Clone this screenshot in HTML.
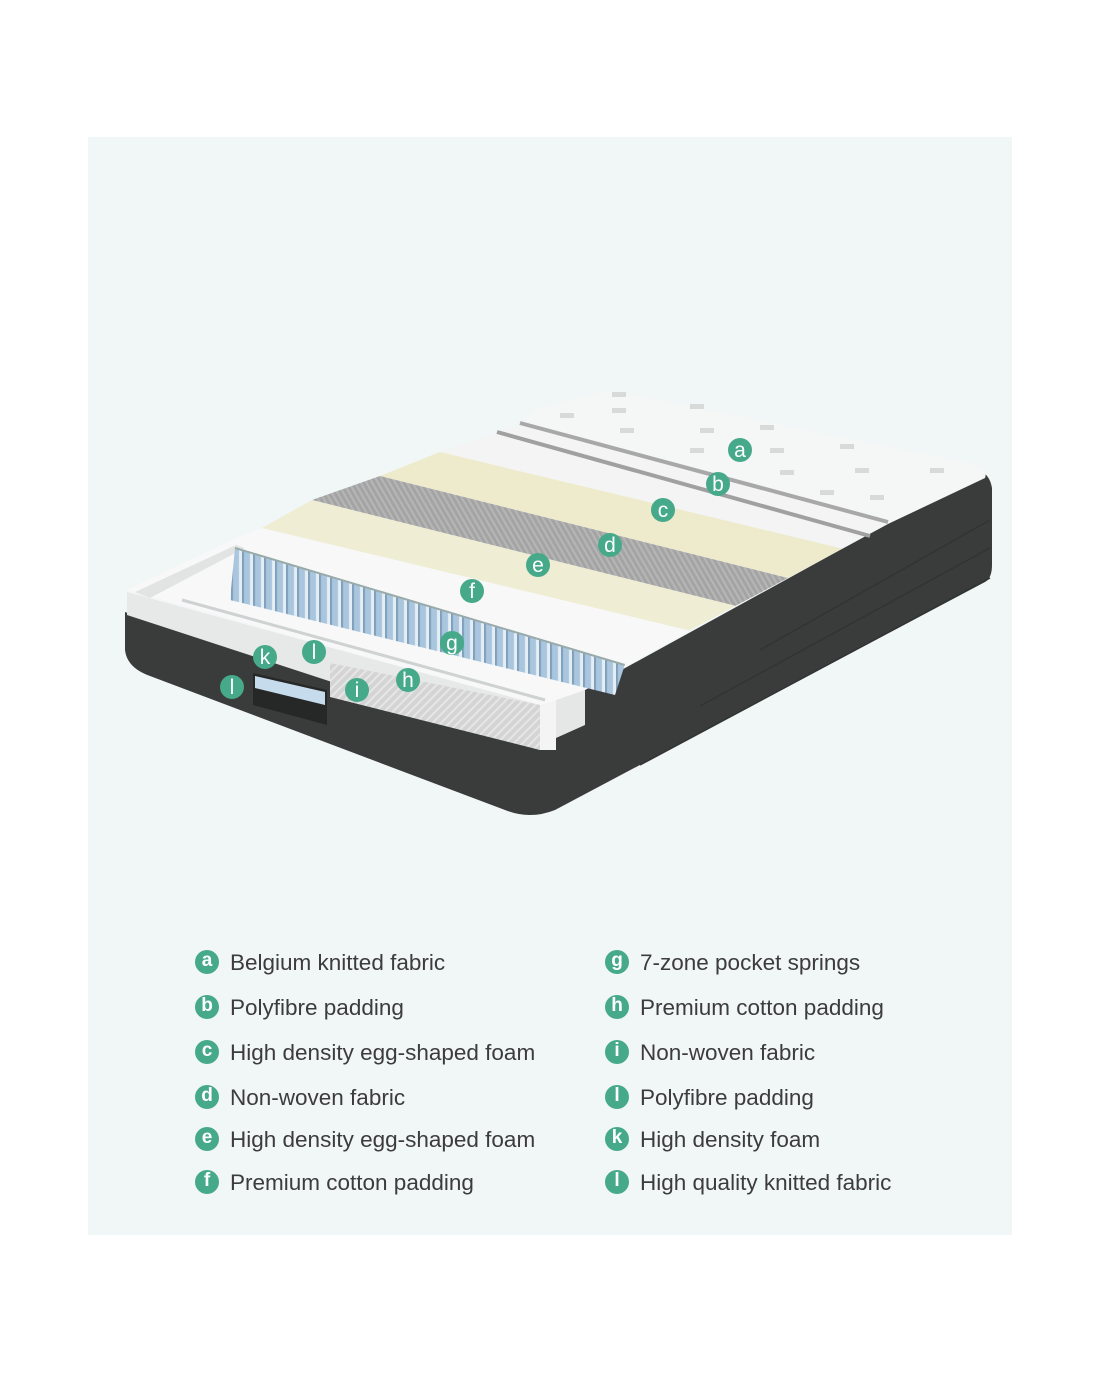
<!DOCTYPE html>
<html><head><meta charset="utf-8"><style>
html,body{margin:0;padding:0;background:#fff;}
body{width:1100px;height:1375px;position:relative;overflow:hidden;font-family:"Liberation Sans",sans-serif;}
.panel{position:absolute;left:88px;top:137px;width:924px;height:1098px;background:#f1f6f6;}
.row{position:absolute;font-size:22.5px;color:#3c3c3c;line-height:26px;white-space:nowrap;}
.ic{display:inline-block;width:24px;height:24px;border-radius:50%;background:#46a98a;color:#fff;font-size:19px;line-height:22px;text-align:center;font-weight:bold;vertical-align:middle;margin-right:11px;position:relative;top:-2px;}
</style></head><body>
<div class="panel"></div>
<svg width="1100" height="1375" style="position:absolute;left:0;top:0">
<defs>
<pattern id="sp" width="11" height="10" patternUnits="userSpaceOnUse" patternTransform="skewY(17)">
<rect width="11" height="10" fill="#a9c6de"/><rect x="8" width="3" height="10" fill="#e6eef5"/><rect x="0" width="2" height="10" fill="#7f9fbb"/>
</pattern>
<pattern id="hat" width="6" height="6" patternUnits="userSpaceOnUse" patternTransform="rotate(45)">
<rect width="6" height="6" fill="#d4d4d4"/><rect width="2" height="6" fill="#e6e6e6"/>
</pattern>
<pattern id="hat2" width="5" height="5" patternUnits="userSpaceOnUse" patternTransform="rotate(-30)">
<rect width="5" height="5" fill="#a4a4a4"/><rect width="2" height="5" fill="#b6b6b6"/>
</pattern>
</defs>
<path d="M125,612 L125,650 Q127,668 150,676 L505,810 Q530,820 555,810 L985,582 Q992,578 992,565 L992,488 Q990,476 982,472 L556,706 L556,750 L540,750 Z" fill="#3a3c3c"/>
<path d="M640,765 L990,578 M700,706 L990,548 M760,650 L990,520" stroke="#323434" stroke-width="1.5" fill="none"/>
<path d="M533,410 L610,390 L975,464 Q988,470 985,478 L888,524 L520,425 Z" fill="#f5f6f6"/>
<g fill="#d8dada">
<rect x="612" y="392" width="14" height="5"/><rect x="690" y="404" width="14" height="5"/><rect x="612" y="408" width="14" height="5"/>
<rect x="620" y="428" width="14" height="5"/><rect x="700" y="428" width="14" height="5"/><rect x="760" y="425" width="14" height="5"/>
<rect x="560" y="413" width="14" height="5"/><rect x="690" y="448" width="14" height="5"/><rect x="770" y="448" width="14" height="5"/>
<rect x="840" y="444" width="14" height="5"/><rect x="780" y="470" width="14" height="5"/><rect x="855" y="468" width="14" height="5"/>
<rect x="930" y="468" width="14" height="5"/><rect x="870" y="495" width="14" height="5"/><rect x="820" y="490" width="14" height="5"/>
</g>
<path d="M520,425 L888,524 L842.6,548.6 L440,452 Z" fill="#f4f4f4"/>
<path d="M520,423 L888,522" stroke="#a8a8a8" stroke-width="4"/>
<path d="M497,432 L870,536" stroke="#a0a0a0" stroke-width="4"/>
<path d="M440,452 L842.6,548.6 L787.8,578 L380,476 Z" fill="#eeebcc"/>
<path d="M380,476 L787.8,578 L735.5,605.9 L312,500 Z" fill="url(#hat2)"/>
<path d="M312,500 L735.5,605.9 L689.3,630.5 L262,528 Z" fill="#efedd3"/>
<path d="M127,590 L240,536 L262,528 L689.3,630.5 L556,706 L540,705 Z" fill="#f8f8f8"/>
<path d="M135,592 L236,545 L245,548 L150,598 Z" fill="#e2e4e4"/>
<path d="M182,600 L545,700" stroke="#cfd2d2" stroke-width="3"/>
<path d="M235,548 L624.8,665 L615,695 L230,600 Z" fill="url(#sp)"/>
<path d="M235,548 L624.8,665" stroke="#9aa" stroke-width="2"/>
<path d="M127,592 L540,705 L540,750 L127,615 Z" fill="#e7e9e9"/>
<path d="M330,663 L540,705 L540,750 L330,697 Z" fill="url(#hat)"/>
<path d="M540,705 L556,700 L556,750 L540,750 Z" fill="#f4f4f4"/>
<path d="M556,700 L585,690 L585,725 L556,738 Z" fill="#e5e7e7"/>
<path d="M253,673 L327,690 L327,725 L253,705 Z" fill="#262828"/>
<path d="M255,676 L325,692 L325,705 L255,688 Z" fill="#c6dcec"/>
<g fill="#46a98a">
<circle cx="740" cy="450" r="12"/><circle cx="718" cy="484" r="12"/><circle cx="663" cy="510" r="12"/>
<circle cx="610" cy="545" r="12"/><circle cx="538" cy="565" r="12"/><circle cx="472" cy="591" r="12"/>
<circle cx="452" cy="643" r="12"/><circle cx="408" cy="680" r="12"/><circle cx="357" cy="690" r="12"/>
<circle cx="314" cy="652" r="12"/><circle cx="265" cy="657" r="12"/><circle cx="232" cy="687" r="12"/>
</g>
<g fill="#fff" font-family="Liberation Sans" font-size="21" text-anchor="middle">
<text x="740" y="457">a</text><text x="718" y="491">b</text><text x="663" y="517">c</text>
<text x="610" y="552">d</text><text x="538" y="572">e</text><text x="472" y="598">f</text>
<text x="452" y="650">g</text><text x="408" y="687">h</text><text x="357" y="697">i</text>
<text x="314" y="659">l</text><text x="265" y="664">k</text><text x="232" y="694">l</text>
</g>
</svg>
<div class="row" style="left:195px;top:950px"><span class="ic">a</span>Belgium knitted fabric</div>
<div class="row" style="left:195px;top:995px"><span class="ic">b</span>Polyfibre padding</div>
<div class="row" style="left:195px;top:1040px"><span class="ic">c</span>High density egg-shaped foam</div>
<div class="row" style="left:195px;top:1085px"><span class="ic">d</span>Non-woven fabric</div>
<div class="row" style="left:195px;top:1127px"><span class="ic">e</span>High density egg-shaped foam</div>
<div class="row" style="left:195px;top:1170px"><span class="ic">f</span>Premium cotton padding</div>
<div class="row" style="left:605px;top:950px"><span class="ic">g</span>7-zone pocket springs</div>
<div class="row" style="left:605px;top:995px"><span class="ic">h</span>Premium cotton padding</div>
<div class="row" style="left:605px;top:1040px"><span class="ic">i</span>Non-woven fabric</div>
<div class="row" style="left:605px;top:1085px"><span class="ic">l</span>Polyfibre padding</div>
<div class="row" style="left:605px;top:1127px"><span class="ic">k</span>High density foam</div>
<div class="row" style="left:605px;top:1170px"><span class="ic">l</span>High quality knitted fabric</div>
</body></html>
